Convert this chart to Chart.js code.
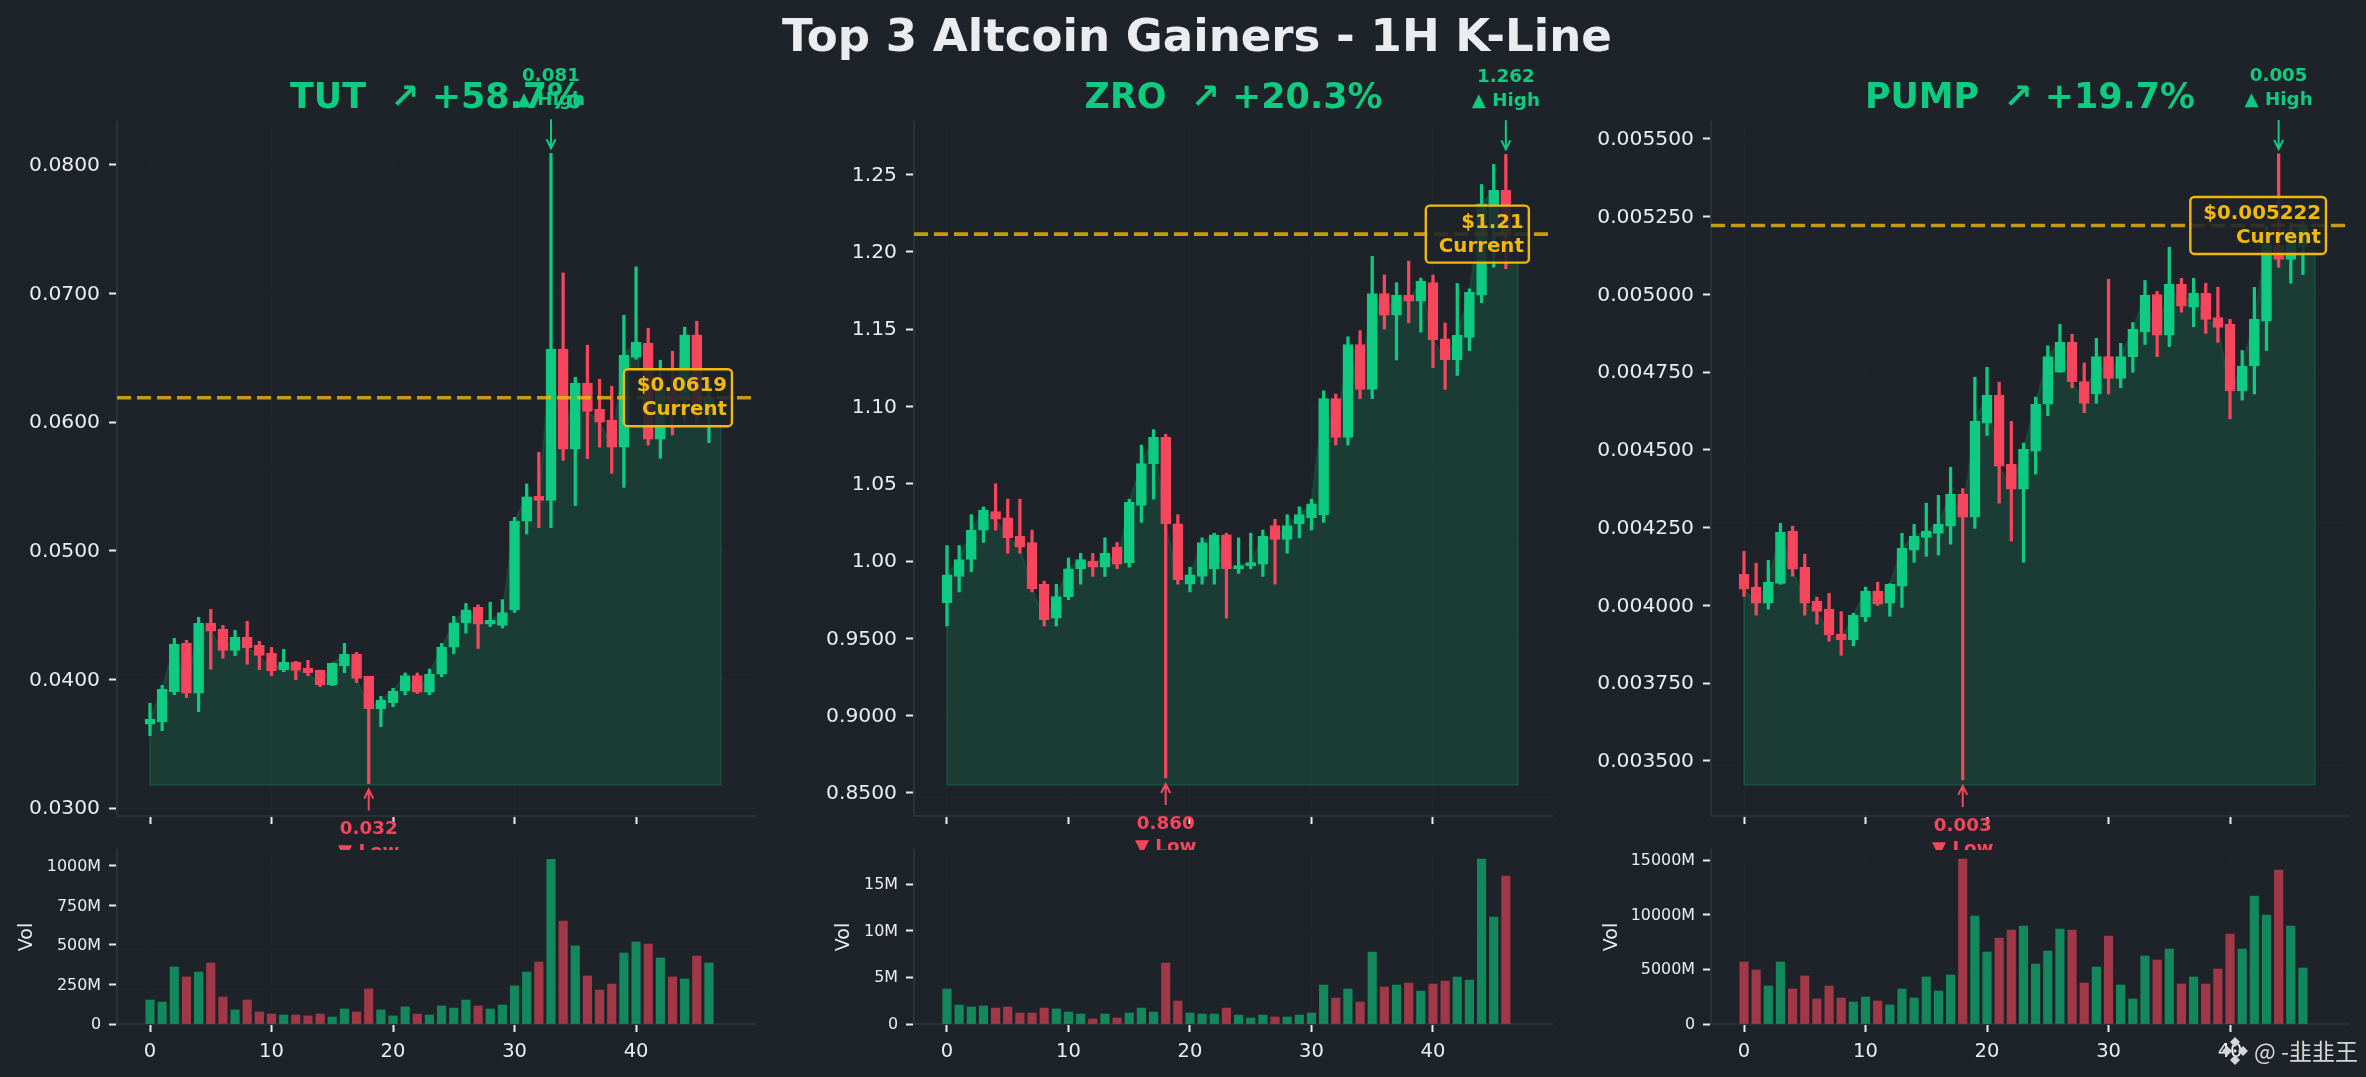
<!DOCTYPE html>
<html>
<head>
<meta charset="utf-8">
<title>Top 3 Altcoin Gainers - 1H K-Line</title>
<script src="https://cdn.jsdelivr.net/npm/chart.js@4/dist/chart.umd.min.js"></script>
<style>
    html, body { margin: 0; padding: 0; background: #1e2329; overflow: hidden; }
    #page { position: relative; width: 2366px; height: 1077px; background: #1e2329; }
    canvas { position: absolute; }
    #mainTitle {
        position: absolute; left: 0; top: 8px; width: 2394px; text-align: center; z-index: 5;
        font: bold 45.1px/56px "DejaVu Sans"; color: #eaecef;
    }
    #mark {
        position: absolute; left: 2222px; top: 1034px; z-index: 5; white-space: nowrap;
        font: 23px/32px "Noto Sans CJK SC"; color: #d6d6d6;
    }
    #mark svg { vertical-align: -6px; margin-right: 6px; }
</style>
</head>
<body>
<div id="page">
    <div id="mainTitle">Top 3 Altcoin Gainers - 1H K-Line</div>
    <div id="mark"><svg width="26" height="30" viewBox="-13 -15 26 30"><g fill="#d6d6d6"><path d="M0-14 5-9 0-4-5-9Z"/><path d="M-8-5-3 0-8 5-13 0Z"/><path d="M8-5 13 0 8 5 3 0Z"/><path d="M0 4 5 9 0 14-5 9Z"/><path d="M0-2 2 0 0 2-2 0Z"/></g></svg>@ -韭韭王</div>
</div>
<script>
const GREEN = '#0ecb81';
const RED = '#f6465d';
const YELLOW = '#f0b90b';
const SPINE = '#2b3139';
const TEXT = '#eaecef';
const FAINT = 'rgba(43,49,57,0.2)';
const FONT = '"DejaVu Sans"';

const xTicks = [0, 10, 20, 30, 40];

// TUT
const tutOpen = [.03651,.03671,.03905,.0428,.03892,.04436,.04389,.04226,.04327,.04265,.04203,.04076,.04133,.04086,.0407,.03959,.04107,.04195,.04024,.03772,.03819,.0391,.0403,.0390,.0404,.0425,.0444,.0456,.0443,.0442,.0454,.0523,.05424,.05392,.06567,.05789,.06302,.061,.06015,.05805,.06502,.06613,.05867,.0625,.0617,.06678,.0607];
const tutClose = [.03689,.03923,.04273,.03892,.04436,.04374,.04226,.04327,.04247,.04187,.04068,.04133,.0407,.04052,.03959,.04125,.04195,.04008,.03772,.03837,.03907,.0403,.0390,.0404,.0425,.0444,.0454,.0443,.0446,.0452,.0523,.0542,.05392,.06567,.05789,.06302,.06084,.05999,.05805,.0652,.06621,.05867,.0625,.0612,.06678,.0607,.0619];
const tutHigh = [.03814,.03954,.04319,.04304,.04483,.04545,.0442,.04382,.04452,.04296,.04249,.04234,.0414,.04148,.04072,.04128,.0428,.0421,.04024,.03868,.03931,.0405,.0405,.0408,.0428,.0449,.0459,.0458,.0460,.0462,.0526,.0552,.05766,.0809,.0716,.06349,.06598,.06333,.06279,.06831,.07207,.0673,.06481,.06551,.06738,.06784,.0628];
const tutLow = [.03562,.03601,.03881,.03858,.03749,.04078,.04164,.04185,.04117,.04076,.04029,.0406,.03998,.04029,.03943,.03951,.04052,.03975,.0319,.03632,.03788,.0388,.0389,.0388,.0402,.0420,.0436,.0424,.0441,.0440,.0452,.0513,.0518,.0518,.05703,.05351,.05717,.05805,.05602,.05493,.06489,.0582,.05719,.0590,.0600,.0600,.05841];
const tutVol = [152,139,361,298,329,386,171,89,152,76,63,57,57,51,63,44,95,76,222,89,51,108,63,57,114,101,152,114,95,120,241,329,392,1042,652,494,304,215,253,449,519,506,418,298,285,430,386];
const tutTicks = [0.03, 0.04, 0.05, 0.06, 0.07, 0.08];
const tutTickLabels = ['0.0300', '0.0400', '0.0500', '0.0600', '0.0700', '0.0800'];
const tutVolTicks = [0, 250, 500, 750, 1000];
const tutVolLabels = ['0', '250M', '500M', '750M', '1000M'];

// ZRO
const zroOpen = [.973,.99,1.001,1.02,1.032,1.028,1.016,1.012,.985,.963,.977,.995,1.0,.996,1.009,.999,1.036,1.063,1.08,1.024,.985,.99,.995,1.017,.995,.997,.998,1.023,1.014,1.024,1.028,1.03,1.105,1.08,1.14,1.111,1.173,1.159,1.172,1.168,1.18,1.1437,1.13,1.1446,1.172,1.215,1.2397];
const zroClose = [.991,1.001,1.02,1.033,1.027,1.015,1.009,.982,.962,.977,.995,1.001,.996,1.005,.998,1.038,1.063,1.08,1.024,.988,.991,1.012,1.017,.995,.997,.999,1.016,1.014,1.023,1.03,1.037,1.105,1.08,1.14,1.111,1.173,1.159,1.172,1.168,1.181,1.143,1.13,1.146,1.1737,1.231,1.2397,1.2114];
const zroHigh = [1.01,1.01,1.03,1.035,1.05,1.04,1.04,1.02,.987,.985,1.002,1.005,1.005,1.015,1.012,1.04,1.075,1.085,1.082,1.03,.996,1.015,1.018,1.018,1.015,1.018,1.02,1.027,1.03,1.035,1.04,1.11,1.108,1.145,1.149,1.197,1.185,1.18,1.194,1.183,1.185,1.154,1.1795,1.176,1.2435,1.2565,1.263];
const zroLow = [.958,.98,.993,1.012,1.02,1.005,1.005,.98,.958,.958,.975,.985,.99,.99,.995,.996,1.025,1.04,.8597,.985,.98,.985,.985,.963,.992,.995,.99,.985,1.005,1.015,1.02,1.025,1.075,1.075,1.105,1.105,1.15,1.13,1.154,1.148,1.125,1.111,1.12,1.136,1.167,1.19,1.189];
const zroVol = [3.75,2.03,1.82,1.93,1.71,1.82,1.18,1.18,1.71,1.61,1.28,1.07,.54,1.07,.64,1.18,1.71,1.28,6.53,2.46,1.18,1.07,1.07,1.71,.96,.64,.96,.75,.75,.96,1.18,4.18,2.78,3.75,2.36,7.71,3.96,4.18,4.39,3.53,4.28,4.6,5.03,4.71,17.67,11.46,15.85];
const zroTicks = [0.85, 0.9, 0.95, 1, 1.05, 1.1, 1.15, 1.2, 1.25];
const zroTickLabels = ['0.8500', '0.9000', '0.9500', '1.00', '1.05', '1.10', '1.15', '1.20', '1.25'];
const zroVolTicks = [0, 5, 10, 15];
const zroVolLabels = ['0', '5M', '10M', '15M'];

// PUMP
const pumpOpen = [.0041,.004059,.004007,.004071,.004239,.004123,.004014,.003988,.003908,.00389,.003964,.004046,.004007,.004062,.004178,.004219,.004232,.004255,.004358,.004284,.004586,.004676,.004454,.004374,.004496,.004647,.00475,.004846,.00472,.00468,.0048,.00473,.0048,.00488,.005,.004869,.005033,.004959,.005004,.004926,.004904,.00469,.00477,.004914,.00516,.005113,.005154];
const pumpClose = [.004052,.004007,.004075,.004235,.004117,.004007,.003981,.003905,.00389,.003969,.004046,.004004,.004068,.004184,.004223,.004239,.004261,.004358,.004284,.004592,.004676,.004448,.004374,.004502,.004647,.0048,.004846,.00472,.00465,.0048,.00473,.0048,.004888,.004997,.004869,.005033,.004962,.005004,.00492,.004894,.00469,.00477,.00492,.005164,.005113,.0052,.005222];
const pumpHigh = [.004174,.004136,.004145,.004264,.004255,.004165,.004027,.004039,.00398,.003975,.004059,.004075,.00407,.004232,.004261,.004329,.004354,.004444,.004376,.004734,.004766,.004718,.004592,.004522,.00467,.004835,.004904,.004872,.00478,.004859,.005049,.004843,.00491,.005045,.00501,.005152,.005052,.005052,.005036,.005023,.00492,.00482,.005023,.00522,.005452,.00523,.005234];
const pumpLow = [.004029,.003969,.003988,.004068,.004094,.003969,.00394,.003885,.00384,.00387,.003948,.004,.003965,.003994,.004139,.004158,.004162,.004197,.003439,.004248,.004547,.004329,.004207,.004139,.004422,.00461,.00475,.0047,.00462,.00465,.00468,.0047,.00475,.004839,.0048,.004832,.004943,.004896,.004875,.004846,.0046,.00466,.00468,.00482,.005087,.005036,.005064];
const pumpVol = [5673,4941,3477,5673,3203,4392,2288,3477,2379,2013,2471,2105,1739,3203,2379,4301,3020,4484,15098,9882,6588,7869,8601,8967,5490,6680,8693,8601,3752,5216,8052,3569,2288,6222,5856,6863,3660,4301,3660,5033,8235,6863,11712,9974,14091,8967,5124];
const pumpTicks = [0.0035, 0.00375, 0.004, 0.00425, 0.0045, 0.00475, 0.005, 0.00525, 0.0055];
const pumpTickLabels = ['0.003500', '0.003750', '0.004000', '0.004250', '0.004500', '0.004750', '0.005000', '0.005250', '0.005500'];
const pumpVolTicks = [0, 5000, 10000, 15000];
const pumpVolLabels = ['0', '5000M', '10000M', '15000M'];

const panels = [
    {
        title: 'TUT  ↗ +58.7%', left: 0, width: 790, axisWidth: 117, padRight: 35, volTitlePad: 16,
        open: tutOpen, close: tutClose, high: tutHigh, low: tutLow, vol: tutVol,
        ticks: tutTicks, tickLabels: tutTickLabels, volTicks: tutVolTicks, volLabels: tutVolLabels,
        xMin: -2.716, xMax: 49.79, yMin: 0.02938, yMax: 0.08334, volMax: 1101, fillBase: 0.03179,
        current: 0.0619, currentLabel: '$0.0619', highLabel: '0.081', lowLabel: '0.032'
    },
    {
        title: 'ZRO  ↗ +20.3%', left: 790, width: 770, axisWidth: 124, padRight: 7, volTitlePad: 43,
        open: zroOpen, close: zroClose, high: zroHigh, low: zroLow, vol: zroVol,
        ticks: zroTicks, tickLabels: zroTickLabels, volTicks: zroVolTicks, volLabels: zroVolLabels,
        xMin: -2.716, xMax: 49.88, yMin: 0.8351, yMax: 1.284, volMax: 18.65, fillBase: 0.8552,
        current: 1.2114, currentLabel: '$1.21', highLabel: '1.262', lowLabel: '0.860'
    },
    {
        title: 'PUMP  ↗ +19.7%', left: 1560, width: 806, axisWidth: 151, padRight: 17, volTitlePad: 41,
        open: pumpOpen, close: pumpClose, high: pumpHigh, low: pumpLow, vol: pumpVol,
        ticks: pumpTicks, tickLabels: pumpTickLabels, volTicks: pumpVolTicks, volLabels: pumpVolLabels,
        xMin: -2.716, xMax: 49.79, yMin: 0.003323, yMax: 0.005555, volMax: 15920, fillBase: 0.003423,
        current: 0.005222, currentLabel: '$0.005222', highLabel: '0.005', lowLabel: '0.003'
    }
];

function addCanvas(left, top, width, height) {
    const canvas = document.createElement('canvas');
    canvas.width = width;
    canvas.height = height;
    canvas.style.left = left + 'px';
    canvas.style.top = top + 'px';
    document.getElementById('page').appendChild(canvas);
    return canvas;
}

function setTicks(values) {
    return scale => { scale.ticks = values.map(value => ({ value })); };
}

function gridOptions() {
    return { color: FAINT, lineWidth: 1, tickColor: TEXT, tickWidth: 2, tickLength: 8, offset: false };
}

function drawArrow(ctx, x, fromY, toY, color) {
    const dir = toY > fromY ? 1 : -1;
    ctx.strokeStyle = color;
    ctx.lineWidth = 2;
    ctx.beginPath();
    ctx.moveTo(x, fromY);
    ctx.lineTo(x, toY);
    ctx.moveTo(x - 4.5, toY - dir * 9);
    ctx.lineTo(x, toY);
    ctx.lineTo(x + 4.5, toY - dir * 9);
    ctx.stroke();
}

// high/low arrows and the current price box
function annotations(p) {
    return {
        id: 'annotations',
        afterDraw(chart) {
            const ctx = chart.ctx;
            const xs = chart.scales.x;
            const ys = chart.scales.y;
            const hi = p.high.indexOf(Math.max(...p.high));
            const lo = p.low.indexOf(Math.min(...p.low));
            ctx.save();
            ctx.textBaseline = 'middle';

            ctx.font = 'bold 18.3px ' + FONT;
            ctx.textAlign = 'center';
            const hx = xs.getPixelForValue(hi);
            const hy = ys.getPixelForValue(p.high[hi]);
            drawArrow(ctx, hx, hy - 34, hy - 5, GREEN);
            ctx.fillStyle = GREEN;
            ctx.fillText(p.highLabel, hx, hy - 77.5);
            ctx.fillText('▲ High', hx, hy - 53.5);

            const lx = xs.getPixelForValue(lo);
            const ly = ys.getPixelForValue(p.low[lo]);
            drawArrow(ctx, lx, ly + 27, ly + 6, RED);
            ctx.fillStyle = RED;
            ctx.fillText(p.lowLabel, lx, ly + 46);
            ctx.fillText('▼ Low', lx, ly + 69);

            ctx.font = 'bold 19.8px ' + FONT;
            const right = xs.getPixelForValue(p.close.length - 1) + 18;
            const cy = ys.getPixelForValue(p.current);
            const textWidth = Math.max(ctx.measureText(p.currentLabel).width, ctx.measureText('Current').width);
            ctx.beginPath();
            ctx.roundRect(right - textWidth - 13, cy - 28.5, textWidth + 18, 57, 4);
            ctx.fillStyle = 'rgba(30,35,41,0.88)';
            ctx.fill();
            ctx.strokeStyle = YELLOW;
            ctx.lineWidth = 2.4;
            ctx.stroke();
            ctx.fillStyle = YELLOW;
            ctx.textAlign = 'right';
            ctx.fillText(p.currentLabel, right, cy - 11.5);
            ctx.fillText('Current', right, cy + 12.5);
            ctx.restore();
        }
    };
}

function drawPrice(p) {
    const count = p.close.length;
    const colors = p.close.map((c, i) => c >= p.open[i] ? GREEN : RED);
    // the shaded area runs one step past the last candle
    const closeLine = p.close.map((y, x) => ({ x, y })).concat([{ x: count, y: p.close[count - 1] }]);
    const outline = closeLine.concat([{ x: count, y: p.fillBase }, { x: 0, y: p.fillBase }, closeLine[0]]);

    new Chart(addCanvas(p.left, 0, p.width, 850), {
        type: 'bar',
        data: {
            datasets: [
                {
                    type: 'line', data: closeLine, order: 6, pointRadius: 0, borderWidth: 0,
                    fill: { value: p.fillBase }, backgroundColor: 'rgba(14,203,129,0.15)'
                },
                {
                    type: 'line', data: outline, order: 5, pointRadius: 0, borderWidth: 2,
                    borderColor: 'rgba(14,203,129,0.15)', fill: false
                },
                {
                    data: p.high.map((h, x) => ({ x, y: [p.low[x], h] })), order: 4,
                    barThickness: 2.6, backgroundColor: colors, grouped: false
                },
                {
                    data: p.close.map((c, x) => ({ x, y: [p.open[x], c] })), order: 3,
                    barThickness: 10, backgroundColor: colors, borderColor: colors,
                    borderWidth: 1, borderSkipped: false, grouped: false
                },
                {
                    type: 'line', order: 2, pointRadius: 0, borderWidth: 3.6, borderDash: [14, 6],
                    borderColor: 'rgba(240,185,11,0.8)', fill: false,
                    data: [{ x: p.xMin, y: p.current }, { x: p.xMax, y: p.current }]
                }
            ]
        },
        options: {
            responsive: false,
            animation: false,
            layout: { padding: { right: p.padRight } },
            plugins: {
                legend: { display: false },
                tooltip: { enabled: false },
                title: {
                    display: true, text: p.title, color: GREEN, fullSize: false,
                    font: { family: FONT, size: 34.9, weight: 'bold' },
                    padding: { top: 78, bottom: 2 }
                }
            },
            scales: {
                x: {
                    type: 'linear', min: p.xMin, max: p.xMax, offset: false,
                    border: { color: SPINE, width: 2 }, grid: gridOptions(),
                    afterBuildTicks: setTicks(xTicks),
                    afterFit: s => { s.height = 34; },
                    ticks: { callback: () => '', maxRotation: 0 }
                },
                y: {
                    min: p.yMin, max: p.yMax,
                    border: { color: SPINE, width: 2 }, grid: gridOptions(),
                    afterBuildTicks: setTicks(p.ticks),
                    afterFit: s => { s.width = p.axisWidth; },
                    ticks: {
                        color: TEXT, padding: 9, autoSkip: false, labelOffset: 1,
                        font: { family: FONT, size: 20.3 },
                        callback: (v, i) => p.tickLabels[i]
                    }
                }
            }
        },
        plugins: [annotations(p)]
    });
}

function drawVolume(p) {
    const colors = p.close.map((c, i) => c >= p.open[i] ? 'rgba(14,203,129,0.6)' : 'rgba(246,70,93,0.6)');

    // starts 20px above the axes so the top tick label gets no extra layout padding
    new Chart(addCanvas(p.left, 830, p.width, 247), {
        type: 'bar',
        data: {
            datasets: [{
                data: p.vol.map((y, x) => ({ x, y })),
                barThickness: 8.5, backgroundColor: colors, grouped: false
            }]
        },
        options: {
            responsive: false,
            animation: false,
            layout: { padding: { top: 20, right: p.padRight } },
            plugins: { legend: { display: false }, tooltip: { enabled: false } },
            scales: {
                x: {
                    type: 'linear', min: p.xMin, max: p.xMax, offset: false,
                    border: { color: SPINE, width: 2 }, grid: gridOptions(),
                    afterBuildTicks: setTicks(xTicks),
                    afterFit: s => { s.height = 53; },
                    ticks: { color: TEXT, padding: 8, maxRotation: 0, font: { family: FONT, size: 19.5 } }
                },
                y: {
                    min: 0, max: p.volMax,
                    border: { color: SPINE, width: 2 }, grid: gridOptions(),
                    afterBuildTicks: setTicks(p.volTicks),
                    afterFit: s => { s.width = p.axisWidth; },
                    title: {
                        display: true, text: 'Vol', color: TEXT,
                        font: { family: FONT, size: 19 }, padding: { top: p.volTitlePad, bottom: 0 }
                    },
                    ticks: {
                        color: TEXT, padding: 8, autoSkip: false, labelOffset: 1,
                        font: { family: FONT, size: 15.9 },
                        callback: (v, i) => p.volLabels[i]
                    }
                }
            }
        }
    });
}

panels.forEach(p => {
    drawPrice(p);
    drawVolume(p);
});
</script>
</body>
</html>
